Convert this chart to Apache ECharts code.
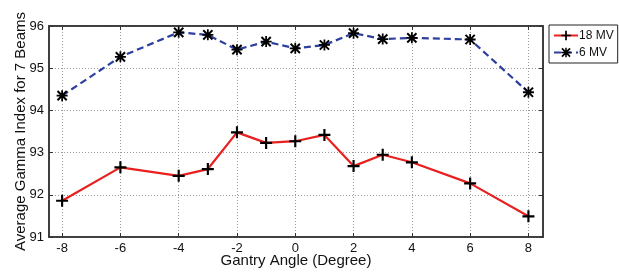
<!DOCTYPE html>
<html>
<head>
<meta charset="utf-8">
<script src="https://cdn.jsdelivr.net/npm/echarts@6/dist/echarts.min.js"></script>
<style>
  html, body { margin: 0; padding: 0; background: #fff; }
  #chart { width: 619px; height: 272px; }
</style>
</head>
<body>
<div id="chart"></div>
<script>
  // gantry angles (degree)
  const angles = [-8, -6, -4, -3, -2, -1, 0, 1, 2, 3, 4, 6, 8]
  const mv18 = [91.86, 92.65, 92.45, 92.61, 93.48, 93.23, 93.27, 93.42, 92.68, 92.95, 92.77, 92.27, 91.49]
  const mv6 = [94.35, 95.27, 95.85, 95.79, 95.44, 95.63, 95.47, 95.55, 95.83, 95.69, 95.72, 95.68, 94.43]
  const xTicks = [-8, -6, -4, -2, 0, 2, 4, 6, 8]

  const plusPath = 'path://M4.1,0H5.9V4.1H10V5.9H5.9V10H4.1V5.9H0V4.1H4.1Z'
  const starPath = 'path://M0,4.2H10V5.8H0Z M4.2,0H5.8V10H4.2Z ' +
    'M1.44,0.16L9.84,8.56L8.56,9.84L0.16,1.44Z M8.56,0.16L9.84,1.44L1.44,9.84L0.16,8.56Z'

  const font = 'Liberation Sans, Arial, sans-serif'
  const chart = echarts.init(document.getElementById('chart'))

  const gridLine = { show: true, lineStyle: { color: '#999', type: [1, 2], width: 1 } }
  const frameLine = { show: true, onZero: false, lineStyle: { color: '#333', width: 1.5 } }

  const option = {
    animation: false,
    textStyle: { fontFamily: font },
    grid: {
      left: 49, right: 76, top: 26, bottom: 35,
      outerBoundsMode: 'none',
      containLabel: false,
      show: true, borderColor: '#333', borderWidth: 1.5, backgroundColor: '#fff'
    },
    legend: {
      orient: 'vertical',
      left: 549, top: 25,
      padding: [3, 4, 3, 4],
      itemGap: 2,
      itemWidth: 24,
      itemHeight: 12,
      borderColor: '#222',
      borderWidth: 1,
      textStyle: { fontSize: 12, lineHeight: 15, color: '#111', padding: [0, 0, 0, -4] },
      data: ['18 MV', '6 MV']
    },
    xAxis: [{
      type: 'value',
      min: -8.45, max: 8.5,
      name: 'Gantry Angle (Degree)',
      nameLocation: 'middle',
      nameGap: 16,
      nameMoveOverlap: false,
      nameTextStyle: { fontSize: 15, color: '#111' },
      axisLine: frameLine,
      axisTick: { show: true, inside: true, length: 4, customValues: xTicks, lineStyle: { color: '#333' } },
      axisLabel: { fontSize: 13, color: '#111', margin: 5, customValues: xTicks },
      splitLine: gridLine
    }, {
      type: 'value',
      position: 'top',
      min: -8.45, max: 8.5,
      axisLine: frameLine,
      axisTick: { show: true, inside: true, length: 4, customValues: xTicks, lineStyle: { color: '#333' } },
      axisLabel: { show: false },
      splitLine: { show: false }
    }],
    yAxis: [{
      type: 'value',
      min: 91, max: 96, interval: 1,
      name: 'Average Gamma Index for 7 Beams',
      nameLocation: 'middle',
      nameGap: 21,
      nameMoveOverlap: false,
      nameTextStyle: { fontSize: 15, color: '#111' },
      axisLine: frameLine,
      axisTick: { show: true, inside: true, length: 4, lineStyle: { color: '#333' } },
      axisLabel: { fontSize: 13, color: '#111', margin: 5 },
      splitLine: gridLine
    }, {
      type: 'value',
      position: 'right',
      min: 91, max: 96, interval: 1,
      axisLine: frameLine,
      axisTick: { show: true, inside: true, length: 4, lineStyle: { color: '#333' } },
      axisLabel: { show: false },
      splitLine: { show: false }
    }],
    series: [
      {
        name: '18 MV',
        type: 'line',
        data: angles.map((a, i) => [a, mv18[i]]),
        symbol: plusPath,
        symbolSize: 12,
        lineStyle: { color: '#e8201f', width: 2.2 },
        itemStyle: { color: '#000' },
        z: 3
      },
      {
        name: '6 MV',
        type: 'line',
        data: angles.map((a, i) => [a, mv6[i]]),
        symbol: starPath,
        symbolSize: 11,
        lineStyle: { color: '#2e3f9e', width: 2.2, type: [7, 4] },
        itemStyle: { color: '#000' },
        z: 3
      }
    ]
  }

  chart.setOption(option)
</script>
</body>
</html>
